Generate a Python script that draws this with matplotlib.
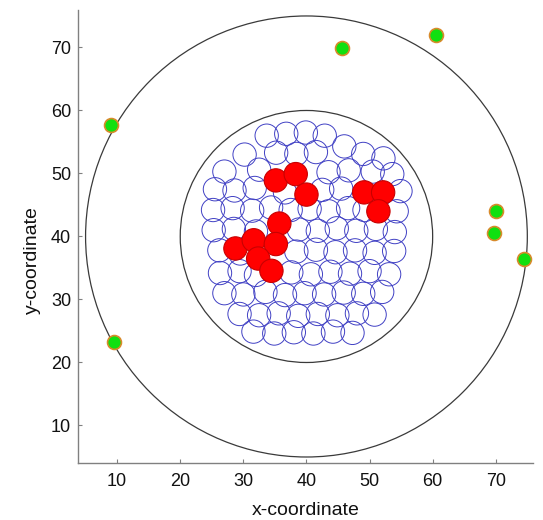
import matplotlib
matplotlib.use("Agg")
import matplotlib.pyplot as plt
from matplotlib.patches import Circle

plt.rcParams['font.family'] = ['Liberation Sans', 'DejaVu Sans']

# Region circles (centre x, centre y, radius)
region_cx = [40.0, 40.0]
region_cy = [40.0, 40.0]
region_r = [35.0, 20.0]

# Sensor coverage radius
sensor_r = 1.85

# Blue sensors (all deployed)
blue_x = [33.7, 36.8, 39.9, 42.9,
          46.0,
          30.2, 35.2, 38.4, 41.5, 49.0,
          52.2,
          27.0, 32.5, 43.5, 46.7, 50.5, 53.6,
          25.5, 28.6, 31.8, 36.6, 42.5, 45.5, 54.9,
          25.2, 28.3, 31.4, 34.4, 37.5, 40.5, 43.5, 46.6, 49.2, 54.3,
          25.3, 28.5, 32.0, 38.8, 41.8, 44.8, 47.9, 51.0, 54.0,
          26.2, 29.5, 38.4, 41.5, 44.6, 47.7, 50.8, 53.9,
          26.3, 29.4, 32.0, 37.6, 40.7, 43.8, 46.9, 50.0, 53.1,
          27.0, 30.0, 33.5, 36.6, 39.7, 42.8, 45.9, 49.0, 52.0,
          29.4, 32.5, 35.6, 38.7, 41.8, 44.9, 48.0, 50.8,
          31.6, 34.9, 38.0, 41.1, 44.2, 47.3]
blue_y = [56.0, 56.3, 56.5, 56.0,
          54.3,
          53.0, 53.3, 53.1, 53.4, 53.1,
          52.4,
          50.3, 50.6, 50.2, 50.5, 50.3, 49.9,
          47.5, 47.3, 47.7, 47.0, 47.4, 47.6, 47.2,
          44.2, 44.5, 44.1, 44.6, 44.2, 44.4, 44.0, 44.5, 44.2, 44.0,
          41.0, 41.2, 40.8, 41.1, 40.9, 41.3, 40.9, 41.2, 40.7,
          37.8, 37.3, 37.6, 37.9, 37.5, 37.8, 37.4, 37.7,
          34.2, 34.5, 33.9, 34.3, 34.0, 34.4, 34.1, 34.5, 34.0,
          31.0, 30.8, 31.2, 30.7, 31.0, 30.8, 31.1, 30.9, 31.2,
          27.7, 27.5, 27.8, 27.4, 27.7, 27.5, 27.8, 27.6,
          24.9, 24.6, 24.8, 24.6, 24.9, 24.7]

# Red sensors (selected)
red_x = [35.15, 38.3, 40.0, 49.15, 52.15, 51.4, 35.7, 28.75, 31.65, 35.15, 32.35, 34.45]
red_y = [48.9, 49.9, 46.65, 47.0, 47.0, 44.0, 42.05, 38.1, 39.4, 38.8, 36.5, 34.55]

# Green points
green_x = [8.97, 9.5, 45.6, 60.55, 70.0, 69.75, 74.5]
green_y = [57.75, 23.3, 69.9, 72.0, 44.1, 40.5, 36.5]

fig = plt.figure(figsize=(5.43, 5.20), dpi=100)
fig.patch.set_facecolor('white')
ax = fig.add_axes([78 / 543, (520 - 463.3) / 520, 455 / 543, 453 / 520])

for cx, cy, r in zip(region_cx, region_cy, region_r):
    ax.add_patch(Circle((cx, cy), r, fill=False, edgecolor='#3a3a3a', linewidth=0.9, zorder=2))

for bx, by in zip(blue_x, blue_y):
    ax.add_patch(Circle((bx, by), sensor_r, fill=False, edgecolor='#4040c4', linewidth=0.7, zorder=3))

for rx, ry in zip(red_x, red_y):
    ax.add_patch(Circle((rx, ry), sensor_r, facecolor='#ff0000', edgecolor='#c80000', linewidth=0.8, zorder=4))

ax.plot(green_x, green_y, linestyle='none', marker='o', markersize=10,
        markerfacecolor='#10e010', markeredgecolor='#d88a2a', markeredgewidth=1.2, zorder=5)

ax.set_xlim(3.8, 75.9)
ax.set_ylim(4.0, 75.9)
ax.set_xticks([10, 20, 30, 40, 50, 60, 70])
ax.set_yticks([10, 20, 30, 40, 50, 60, 70])

for s in ['top', 'right']:
    ax.spines[s].set_visible(False)
for s in ['left', 'bottom']:
    ax.spines[s].set_color('#808080')
    ax.spines[s].set_linewidth(1.0)

ax.tick_params(direction='in', length=3, width=0.8, color='#808080', labelsize=13, labelcolor='#111111')
ax.tick_params(axis='x', pad=7)
ax.tick_params(axis='y', pad=5)

ax.set_xlabel('x-coordinate', fontsize=14, color='#111111')
ax.set_ylabel('y-coordinate', fontsize=14, color='#111111')
ax.xaxis.set_label_coords(0.5, -0.104)
ax.yaxis.set_label_coords(-0.099, 0.448)
ax.xaxis.label.set_va('center')
ax.yaxis.label.set_va('center')

fig.savefig('out.png', dpi=100)
